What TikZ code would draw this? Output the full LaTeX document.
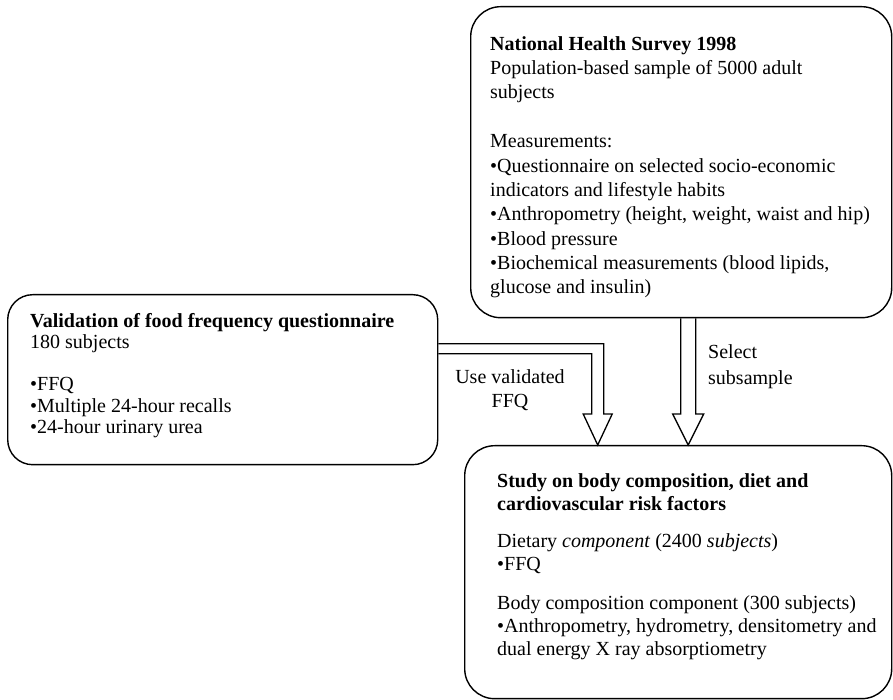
\documentclass[tikz,border=0pt]{standalone}
\usepackage{fontspec}
\setmainfont{Liberation Serif}
\usetikzlibrary{positioning, calc}

\begin{document}
\begin{tikzpicture}[
    x=1pt, y=1pt,
    font=\fontsize{20}{24.3}\selectfont,
    stage/.style={draw, line width=1.4pt, rounded corners=30pt, inner sep=0pt, anchor=north west},
    txt/.style={inner sep=0pt, align=left, anchor=north west},
    hollow/.style={line width=1.3pt, line join=miter},
  ]
  \useasboundingbox (0,0) rectangle (893,700);

  % Boxes
  \node[stage, minimum width=421pt, minimum height=311pt] (survey) at (470,694) {};
  \node[stage, minimum width=430pt, minimum height=170pt, rounded corners=25pt] (valid) at (7,406) {};
  \node[stage, minimum width=427pt, minimum height=253pt] (study) at (464,255) {};

  % Box texts
  \node[txt, below right=30pt and 20pt of survey.north west] (surveytxt)
    {\textbf{National Health Survey 1998}\\
     Population-based sample of 5000 adult\\
     subjects\\[25pt]
     Measurements:\\
     •Questionnaire on selected socio-economic\\
     indicators and lifestyle habits\\
     •Anthropometry (height, weight, waist and hip)\\
     •Blood pressure\\
     •Biochemical measurements (blood lipids,\\
     glucose and insulin)};
  \node[txt, font=\fontsize{20}{21.6}\selectfont, below right=19pt and 23pt of valid.north west] (validtxt)
    {\textbf{Validation of food frequency questionnaire}\\
     180 subjects\\[20pt]
     •FFQ\\
     •Multiple 24-hour recalls\\
     •24-hour urinary urea};
  \node[txt, font=\fontsize{20}{23.3}\selectfont, below right=28pt and 33pt of study.north west] (studytxt)
    {\textbf{Study on body composition, diet and}\\
     \textbf{cardiovascular risk factors}\\[14pt]
     Dietary \textit{component} (2400 \textit{subjects})\\
     •FFQ\\[15pt]
     Body composition component (300 subjects)\\
     •Anthropometry, hydrometry, densitometry and\\
     dual energy X ray absorptiometry};

  % Arrow ends
  \coordinate (usetip) at ([xshift=-80.5pt]study.north);
  \coordinate (seltip) at ([xshift=10pt]study.north);
  \coordinate (usesrc) at ([yshift=31pt]valid.east);
  \coordinate (selsrc) at (seltip |- survey.south);

  % Select subsample
  \draw[hollow] ($(selsrc)+(-7.5,0)$) -- ($(seltip)+(-7.5,31)$) -- ($(seltip)+(-15.5,31)$)
    -- (seltip) -- ($(seltip)+(15.5,31)$) -- ($(seltip)+(7.5,31)$) -- ($(selsrc)+(7.5,0)$);
  % Use validated FFQ
  \draw[hollow] ($(usesrc)+(0,5)$) -| ($(usetip)+(6,31)$) -- ($(usetip)+(14.5,31)$)
    -- (usetip) -- ($(usetip)+(-14.5,31)$) -- ($(usetip)+(-6,31)$) |- ($(usesrc)+(0,-5)$);

  % Labels
  \node[align=center, inner sep=0pt] (uselbl) at (510,310) {Use validated\\FFQ};
  \node[align=left, inner sep=0pt, anchor=west, font=\fontsize{20}{26}\selectfont] (sellbl) at (708,333.5) {Select\\subsample};
\end{tikzpicture}
\end{document}
